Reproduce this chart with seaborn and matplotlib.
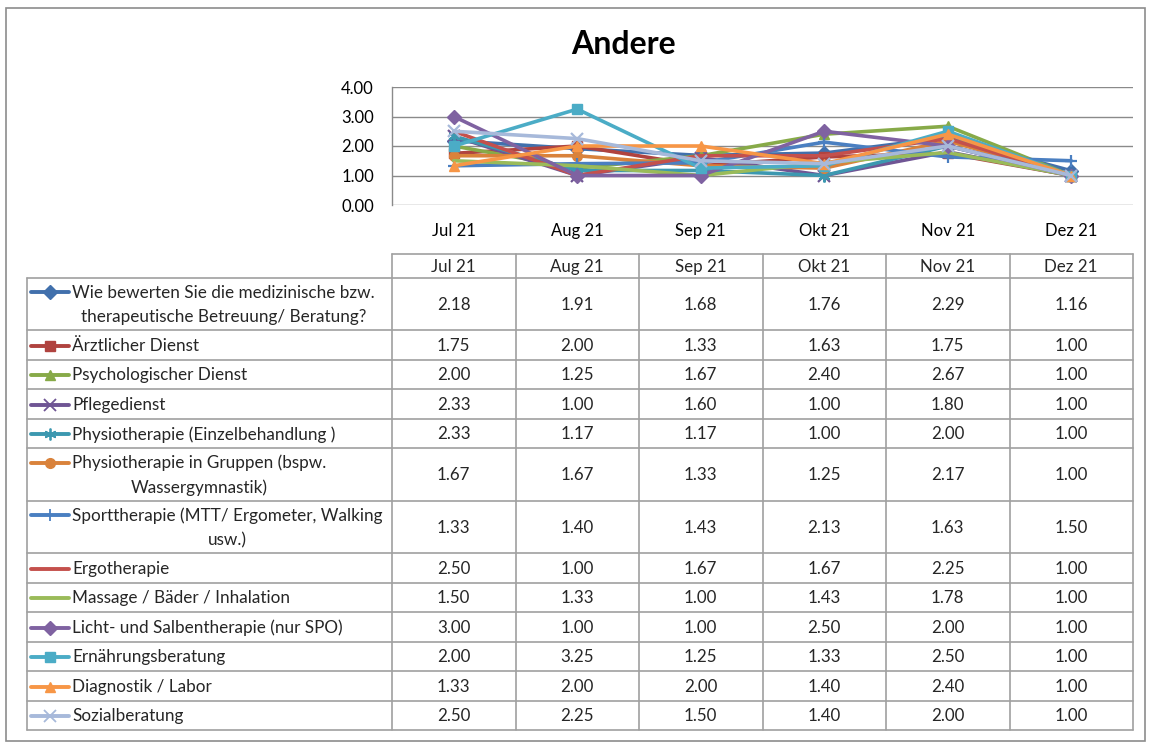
import numpy as np
import pandas as pd
import matplotlib
matplotlib.use("Agg")
import matplotlib.pyplot as plt
from matplotlib.ticker import FormatStrFormatter
import seaborn as sns

# ---- data -----------------------------------------------------------------
months = ["Jul 21", "Aug 21", "Sep 21", "Okt 21", "Nov 21", "Dez 21"]

labels = [
    "Wie bewerten Sie die medizinische bzw.\ntherapeutische Betreuung/ Beratung?",
    "Ärztlicher Dienst",
    "Psychologischer Dienst",
    "Pflegedienst",
    "Physiotherapie (Einzelbehandlung )",
    "Physiotherapie in Gruppen (bspw.\nWassergymnastik)",
    "Sporttherapie (MTT/ Ergometer, Walking\nusw.)",
    "Ergotherapie",
    "Massage / Bäder / Inhalation",
    "Licht- und Salbentherapie (nur SPO)",
    "Ernährungsberatung",
    "Diagnostik / Labor",
    "Sozialberatung",
]

betreuung = [2.18, 1.91, 1.68, 1.76, 2.29, 1.16]
aerztlich = [1.75, 2.00, 1.33, 1.63, 1.75, 1.00]
psychologisch = [2.00, 1.25, 1.67, 2.40, 2.67, 1.00]
pflege = [2.33, 1.00, 1.60, 1.00, 1.80, 1.00]
physio_einzel = [2.33, 1.17, 1.17, 1.00, 2.00, 1.00]
physio_gruppe = [1.67, 1.67, 1.33, 1.25, 2.17, 1.00]
sport = [1.33, 1.40, 1.43, 2.13, 1.63, 1.50]
ergo = [2.50, 1.00, 1.67, 1.67, 2.25, 1.00]
massage = [1.50, 1.33, 1.00, 1.43, 1.78, 1.00]
licht = [3.00, 1.00, 1.00, 2.50, 2.00, 1.00]
ernaehrung = [2.00, 3.25, 1.25, 1.33, 2.50, 1.00]
diagnostik = [1.33, 2.00, 2.00, 1.40, 2.40, 1.00]
sozial = [2.50, 2.25, 1.50, 1.40, 2.00, 1.00]

series_values = [betreuung, aerztlich, psychologisch, pflege, physio_einzel,
                 physio_gruppe, sport, ergo, massage, licht, ernaehrung,
                 diagnostik, sozial]

# ---- styles ---------------------------------------------------------------
colors = ["#4170AC", "#B0433F", "#87AA48", "#6F5594", "#3C98B0", "#D9823B",
          "#4A7FC1", "#C4504C", "#9ABB59", "#7F62A1", "#4BACC6", "#F79646",
          "#A7B9DA"]
markers = ["D", "s", "^", "x", (6, 2, 0), "o", "+", None, None, "D", "s",
           "^", "x"]


def marker_style(m, color, legend=False):
    unfilled = m in ("x", "+") or isinstance(m, tuple)
    return dict(marker=m, markersize=8.5 if unfilled else 7,
                markeredgecolor=color, markerfacecolor=color,
                markeredgewidth=(1.3 if legend else 1.6) if unfilled else 1.0)


sns.set_theme(style="white")
plt.rcParams["font.family"] = ["Lato", "DejaVu Sans"]

W, H = 1149, 746
fig = plt.figure(figsize=(W / 100, H / 100), dpi=100)

# overlay in pixel coordinates for frame, title and data table
ov = fig.add_axes([0, 0, 1, 1], zorder=0)
ov.set_xlim(0, W)
ov.set_ylim(H, 0)
ov.axis("off")
ov.patch.set_alpha(0)

# ---- line chart -----------------------------------------------------------
x0, x1 = 392, 1133
y_top, y_bot = 87, 205
ax = fig.add_axes([x0 / W, 1 - y_bot / H, (x1 - x0) / W, (y_bot - y_top) / H],
                  zorder=1)
ax.patch.set_alpha(0)

xpos = np.arange(len(months))
long = pd.DataFrame({
    "x": np.tile(xpos, len(labels)),
    "value": np.concatenate(series_values),
    "series": np.repeat(np.arange(len(labels)), len(months)),
})

for i in range(len(labels)):
    sub = long[long["series"] == i]
    kw = dict(linewidth=2.6, color=colors[i], sort=False, ax=ax)
    if markers[i] is not None:
        kw.update(marker_style(markers[i], colors[i]))
    sns.lineplot(data=sub, x="x", y="value", legend=False, **kw)

ax.set_xlim(-0.5, len(months) - 0.5)
ax.set_ylim(0, 4)
ax.set_yticks([0, 1, 2, 3, 4])
ax.yaxis.set_major_formatter(FormatStrFormatter("%.2f"))
ax.set_xticks(xpos)
ax.set_xticklabels(months)
ax.set_xlabel("")
ax.set_ylabel("")
ax.tick_params(axis="both", length=0, labelsize=12, colors="#000000")
ax.tick_params(axis="x", pad=13)
ax.tick_params(axis="y", pad=13)
ax.grid(axis="y", color="#8a8a8a", linewidth=1.0)
ax.set_axisbelow(True)
for s in ["top", "right", "bottom"]:
    ax.spines[s].set_visible(False)
ax.spines["left"].set_color("#8a8a8a")
ax.spines["left"].set_linewidth(1.0)

# ---- frame and title ------------------------------------------------------
ov.add_patch(plt.Rectangle((5.5, 7.5), 1139, 733, fill=False,
                           edgecolor="#8c8c8c", linewidth=1.2))
ov.text(623, 44, "Andere", ha="center", va="center", fontsize=23,
        fontweight="bold", color="#000000")

# ---- data table -----------------------------------------------------------
tcol = "#a0a0a0"
tlw = 1.2
col_edges = np.linspace(x0, x1, len(months) + 1)
col_centers = (col_edges[:-1] + col_edges[1:]) / 2
left_edge = 27
head_top, head_bot = 254, 278
row_heights = [52, 29.5, 29.5, 29.5, 29.5, 53, 52, 29.5, 29.5, 29.5, 29.5,
               29.5, 29.5]
row_edges = head_bot + np.concatenate([[0], np.cumsum(row_heights)])
fs_lab = 12.3
fs_num = 12.2

# grid of the table
ov.plot([x0, x1], [head_top, head_top], color=tcol, lw=tlw)
for xe in col_edges:
    ov.plot([xe, xe], [head_top, row_edges[-1]], color=tcol, lw=tlw)
ov.plot([left_edge, left_edge], [head_bot, row_edges[-1]], color=tcol, lw=tlw)
for ye in row_edges:
    ov.plot([left_edge, x1], [ye, ye], color=tcol, lw=tlw)
for xc, mth in zip(col_centers, months):
    ov.text(xc, (head_top + head_bot) / 2 + 1, mth, ha="center", va="center",
            fontsize=fs_num)

for i, (lab, vals) in enumerate(zip(labels, series_values)):
    yc = (row_edges[i] + row_edges[i + 1]) / 2
    two = "\n" in lab
    ov.text(72, yc + 1, lab, ha="left", va="center", multialignment="center",
            fontsize=fs_lab, linespacing=1.6)
    ky = yc - 12 if two else yc + 1
    ov.plot([31, 69], [ky, ky], color=colors[i], lw=2.8,
            solid_capstyle="round")
    if markers[i] is not None:
        ov.plot([50], [ky], color=colors[i],
                **marker_style(markers[i], colors[i], legend=True))
    for xc, v in zip(col_centers, vals):
        ov.text(xc, yc + 1, f"{v:.2f}", ha="center", va="center",
                fontsize=fs_num)

fig.savefig("out.png", dpi=100)
